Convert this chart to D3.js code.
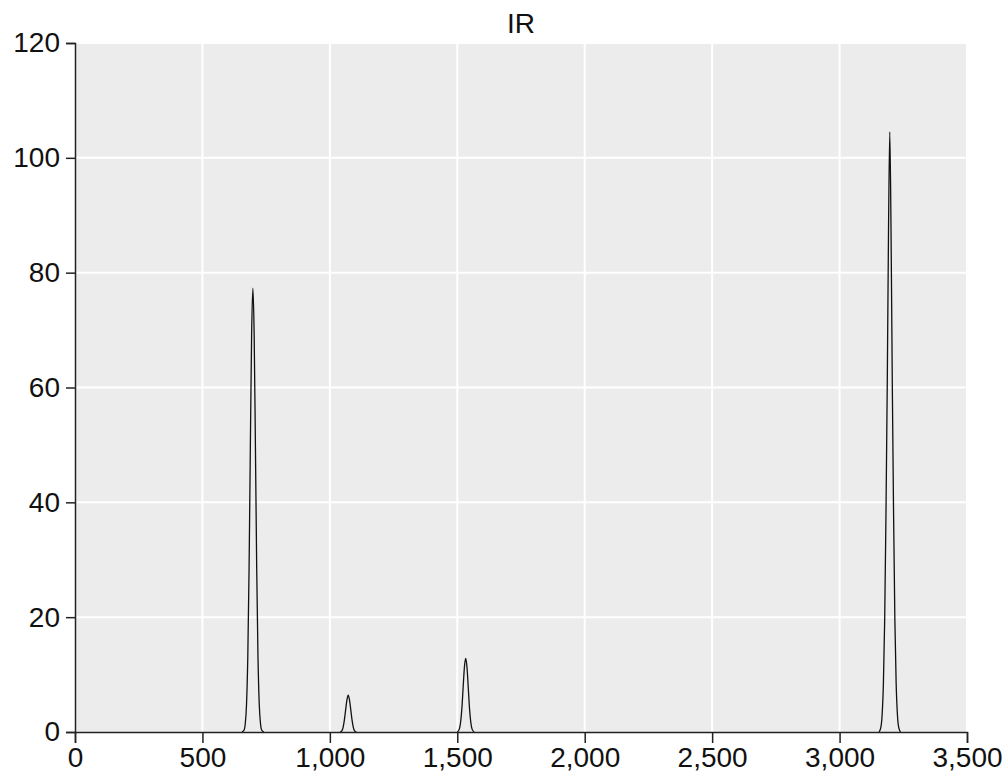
<!DOCTYPE html>
<html>
<head>
<meta charset="utf-8">
<script src="https://cdn.jsdelivr.net/npm/d3@7"></script>
<style>
  body { margin: 0; background: #fff; }
  text { font-family: "Liberation Sans", Arial, sans-serif; }
</style>
</head>
<body>
<div class="canvas"></div>
<script>
// IR spectrum, points (wavenumber, intensity)
const peak700 = [[655, 0], [663, 0.3], [668, 1.4], [673, 4.8], [678, 13.0], [683, 28.4], [688, 49.5], [693, 69.2], [698, 77.3],
  [703, 69.2], [708, 49.5], [713, 28.4], [718, 13.0], [723, 4.8], [728, 1.4], [733, 0.3], [741, 0]];
const peak1070 = [[1040, 0], [1047, 0.2], [1052, 0.8], [1057, 2.1], [1062, 3.9], [1067, 5.6], [1072, 6.4],
  [1077, 5.6], [1082, 3.9], [1087, 2.1], [1092, 0.8], [1097, 0.2], [1104, 0]];
const peak1530 = [[1500, 0], [1508, 0.5], [1513, 1.7], [1518, 4.1], [1523, 7.8], [1528, 11.3], [1533, 12.8],
  [1538, 11.3], [1543, 7.8], [1548, 4.1], [1553, 1.7], [1558, 0.5], [1566, 0]];
const peak3200 = [[3155, 0], [3162, 0.8], [3167, 3.0], [3172, 8.5], [3177, 19.5], [3182, 37.6], [3187, 60.0], [3192, 87.0], [3197, 104.5],
  [3202, 87.0], [3207, 60.0], [3212, 37.6], [3217, 19.5], [3222, 8.5], [3227, 3.0], [3232, 0.8], [3239, 0]];
const baseline = [[0, 0], [3500, 0]];

const xTicks = [0, 500, 1000, 1500, 2000, 2500, 3000, 3500];
const yTicks = [0, 20, 40, 60, 80, 100, 120];
const title = "IR";

const W = 1008, H = 773;
const m = { top: 43, right: 41, bottom: 41, left: 75 };
const iw = W - m.left - m.right, ih = H - m.top - m.bottom;

const svg = d3.select(".canvas").append("svg").attr("width", W).attr("height", H);
const g = svg.append("g").attr("transform", `translate(${m.left},${m.top})`);

let x = d3.scaleLinear().domain([0, 3500]).range([0, iw]);
let y = d3.scaleLinear().domain([0, 120]).range([ih, 0]);

g.append("rect").attr("width", iw).attr("height", ih).attr("fill", "#ececec");

// grid
g.selectAll(".vgrid").data(xTicks.slice(1)).join("line")
  .attr("x1", (d) => x(d)).attr("x2", (d) => x(d))
  .attr("y1", 0).attr("y2", ih)
  .attr("stroke", "#fff").attr("stroke-width", 2);
g.selectAll(".hgrid").data(yTicks.slice(1)).join("line")
  .attr("y1", (d) => y(d)).attr("y2", (d) => y(d))
  .attr("x1", 0).attr("x2", iw)
  .attr("stroke", "#fff").attr("stroke-width", 2);

let line = d3.line().x((d) => x(d[0])).y((d) => y(d[1])).curve(d3.curveMonotoneX);
[peak700, peak1070, peak1530, peak3200].forEach((pk) => {
  g.append("path").datum(pk).attr("d", line)
    .attr("fill", "none").attr("stroke", "#111").attr("stroke-width", 1.3);
});

let xAxis = g.append("g").attr("transform", `translate(0,${ih})`)
  .call(d3.axisBottom(x).tickValues(xTicks).tickFormat(d3.format(",")).tickSize(11).tickPadding(4));
let yAxis = g.append("g")
  .call(d3.axisLeft(y).tickValues(yTicks).tickSize(9).tickPadding(6));
[xAxis, yAxis].forEach((a) => {
  a.selectAll("path, line").attr("stroke", "#222").attr("stroke-width", 1.5);
  a.selectAll("text").attr("fill", "#111").style("font-size", "28px")
    .style("font-family", '"Liberation Sans", Arial, sans-serif');
});

svg.append("text").attr("x", m.left + iw / 2).attr("y", 33)
  .attr("text-anchor", "middle").style("font-size", "28px").attr("fill", "#111")
  .text(title);
</script>
</body>
</html>
